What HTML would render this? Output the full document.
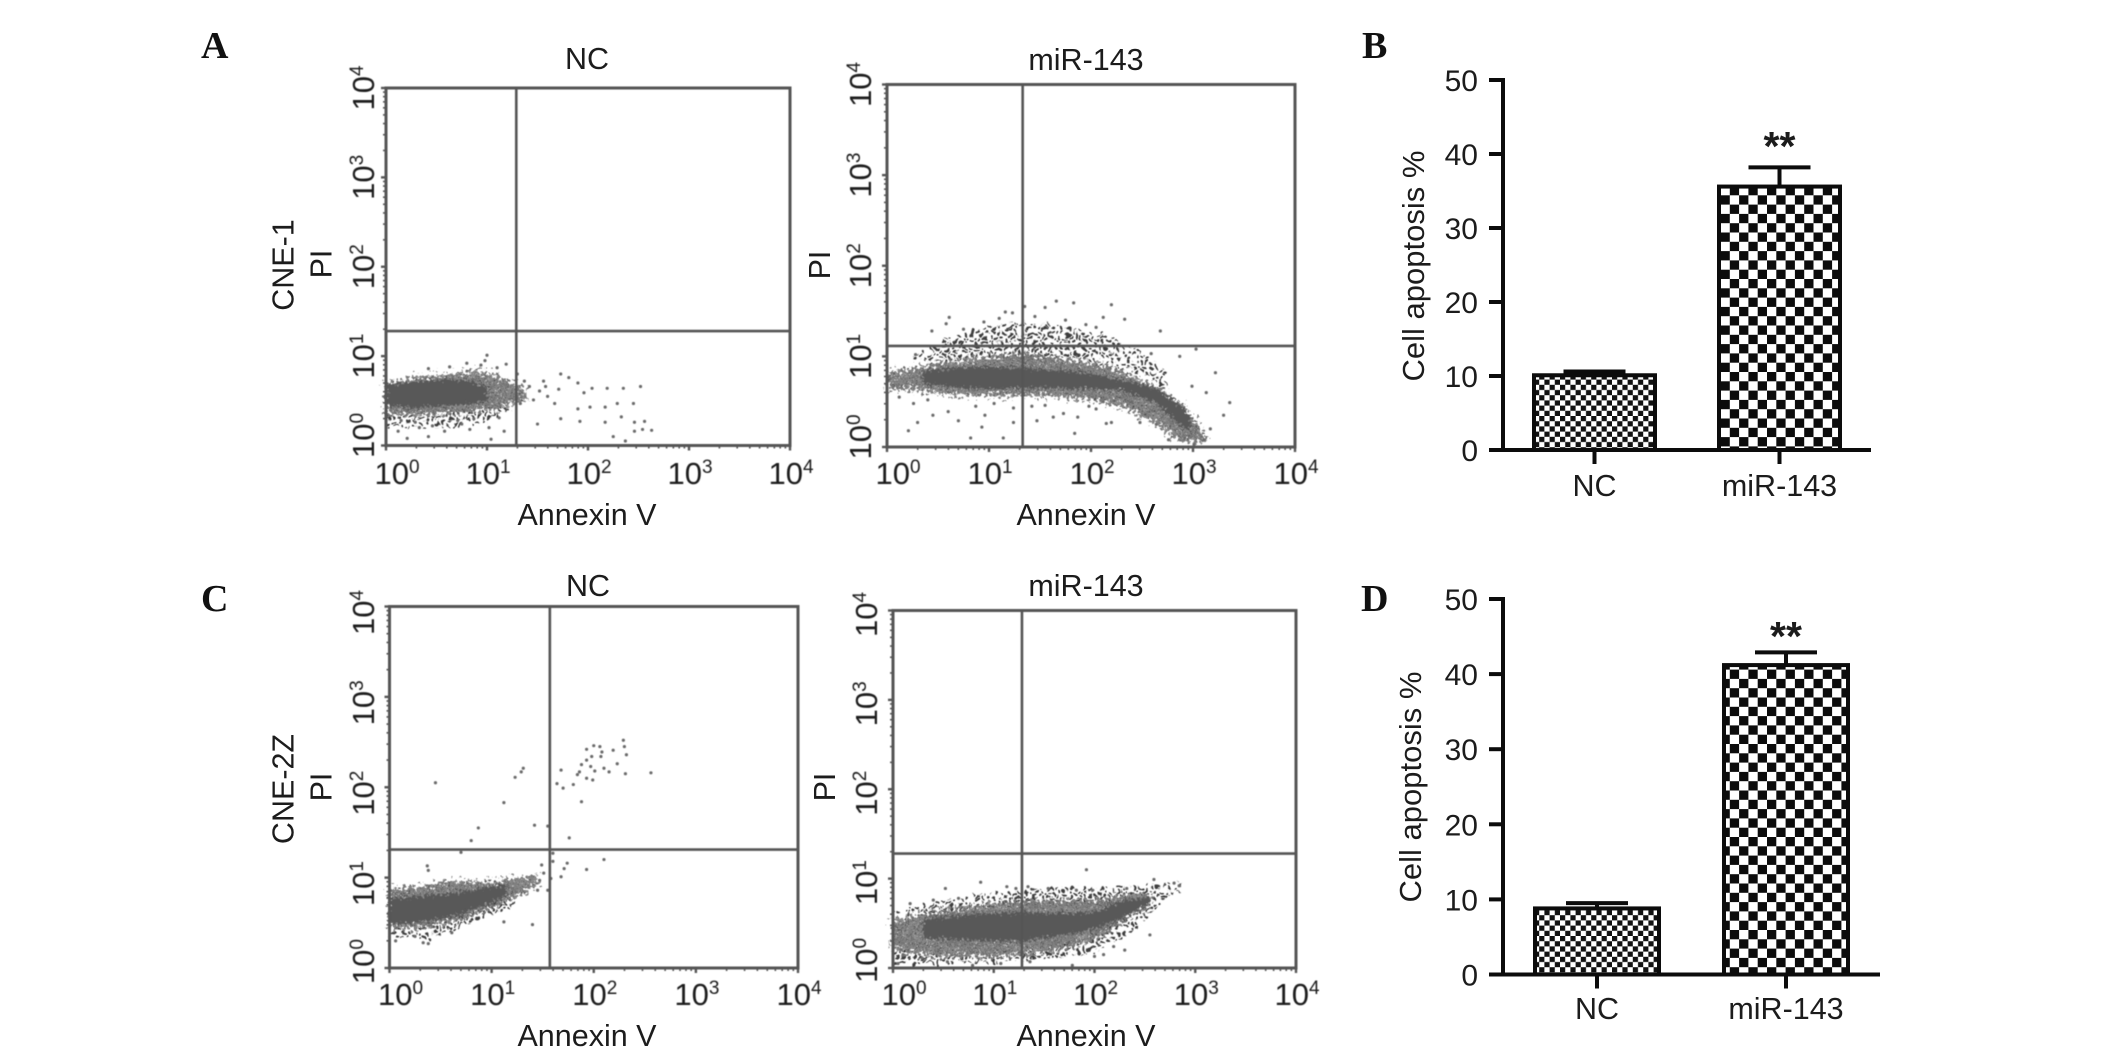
<!DOCTYPE html>
<html lang="en">
<head>
<meta charset="utf-8">
<title>Cell apoptosis flow cytometry</title>
<style>
html,body{margin:0;padding:0;background:#fff;}
svg{display:block;}
text{font-family:"Liberation Sans",sans-serif;fill:#1c1c1c;}
.letter{font-family:"Liberation Serif",serif;font-weight:bold;font-size:38px;fill:#111;}
.lab{font-size:30.5px;}
</style>
</head>
<body>
<svg id="fig" xmlns="http://www.w3.org/2000/svg" width="2126" height="1058" viewBox="0 0 2126 1058">
<defs>
<pattern id="stipple-sparse" width="17" height="15" patternUnits="userSpaceOnUse">
<g fill="#3e3e3e"><circle cx="2" cy="3" r="1.7"/><circle cx="8" cy="1" r="1.6"/><circle cx="13" cy="4" r="1.7"/><circle cx="16" cy="8" r="1.6"/><circle cx="6" cy="7" r="1.7"/><circle cx="11" cy="9" r="1.6"/><circle cx="3" cy="11" r="1.6"/><circle cx="14" cy="13" r="1.7"/><circle cx="8" cy="13" r="1.6"/></g>
</pattern>
<pattern id="stipple-dense" width="17" height="13" patternUnits="userSpaceOnUse">
<rect width="17" height="13" fill="#8a8a8a"/>
<g fill="#4e4e4e"><circle cx="2" cy="2" r="1.5"/><circle cx="7" cy="1" r="1.4"/><circle cx="12" cy="3" r="1.5"/><circle cx="16" cy="6" r="1.4"/><circle cx="5" cy="6" r="1.5"/><circle cx="10" cy="7" r="1.4"/><circle cx="1" cy="9" r="1.4"/><circle cx="14" cy="10" r="1.5"/><circle cx="7" cy="11" r="1.5"/></g>
<g fill="#e4e4e4"><circle cx="9" cy="4" r=".8"/><circle cx="3" cy="11" r=".8"/><circle cx="13" cy="12" r=".7"/></g>
</pattern>
<pattern id="check-fine" width="10.4" height="10.4" patternUnits="userSpaceOnUse">
<rect width="10.4" height="10.4" fill="#fff"/><rect width="5.2" height="5.2" fill="#111"/><rect x="5.2" y="5.2" width="5.2" height="5.2" fill="#111"/>
</pattern>
<pattern id="check-coarse" width="18.6" height="18.6" patternUnits="userSpaceOnUse">
<rect width="18.6" height="18.6" fill="#fff"/><rect width="9.3" height="9.3" fill="#0c0c0c"/><rect x="9.3" y="9.3" width="9.3" height="9.3" fill="#0c0c0c"/>
</pattern>
<filter id="grain-fine" x="-20%" y="-40%" width="140%" height="180%">
<feTurbulence type="fractalNoise" baseFrequency=".12" numOctaves="2" seed="5" result="n"/>
<feDisplacementMap in="SourceGraphic" in2="n" scale="12" xChannelSelector="R" yChannelSelector="G"/>
</filter>
<filter id="grain-wide" x="-20%" y="-40%" width="140%" height="180%">
<feTurbulence type="fractalNoise" baseFrequency=".33" numOctaves="2" seed="3" result="n"/>
<feDisplacementMap in="SourceGraphic" in2="n" scale="22" xChannelSelector="R" yChannelSelector="G"/>
</filter>
<filter id="grain-core" x="-20%" y="-40%" width="140%" height="180%">
<feTurbulence type="fractalNoise" baseFrequency=".4" numOctaves="2" seed="8" result="n"/>
<feDisplacementMap in="SourceGraphic" in2="n" scale="14" xChannelSelector="R" yChannelSelector="G"/>
</filter>
<filter id="soft" x="-2%" y="-2%" width="104%" height="104%"><feGaussianBlur stdDeviation="0.45"/></filter>
</defs>
<rect width="2126" height="1058" fill="#fff"/>

<text class="letter" x="201" y="58">A</text>
<text class="letter" x="1362" y="58">B</text>
<text class="letter" x="201" y="611">C</text>
<text class="letter" x="1361" y="611">D</text>

<text class="lab" x="587" y="69" text-anchor="middle">NC</text>
<text class="lab" x="1086" y="70" text-anchor="middle">miR-143</text>
<text class="lab" x="588" y="596" text-anchor="middle">NC</text>
<text class="lab" x="1086" y="596" text-anchor="middle">miR-143</text>

<text class="lab" x="587" y="525" text-anchor="middle">Annexin V</text>
<text class="lab" x="1086" y="525" text-anchor="middle">Annexin V</text>
<text class="lab" x="587" y="1046" text-anchor="middle">Annexin V</text>
<text class="lab" x="1086" y="1046" text-anchor="middle">Annexin V</text>

<text class="lab" transform="translate(293.5,265) rotate(-90)" text-anchor="middle">CNE-1</text>
<text class="lab" transform="translate(331.5,264) rotate(-90)" text-anchor="middle">PI</text>
<text class="lab" transform="translate(830,265) rotate(-90)" text-anchor="middle">PI</text>
<text class="lab" transform="translate(293.5,789) rotate(-90)" text-anchor="middle">CNE-2Z</text>
<text class="lab" transform="translate(331.5,787) rotate(-90)" text-anchor="middle">PI</text>
<text class="lab" transform="translate(835,787) rotate(-90)" text-anchor="middle">PI</text>

<text class="lab" style="font-size:31px" transform="translate(1424,266) rotate(-90)" text-anchor="middle">Cell apoptosis %</text>
<text class="lab" style="font-size:31px" transform="translate(1421,787) rotate(-90)" text-anchor="middle">Cell apoptosis %</text>

<g id="charts"></g>
</svg>

<script>
/* ---------- flow cytometry data (values in log10 decades) ---------- */
const logTickExponents = ['0', '1', '2', '3', '4'];

const gateANc = [1.29, 1.28];
const gateAMir = [1.33, 1.115];
const gateCNc = [1.57, 1.31];
const gateCMir = [1.28, 1.28];

/* density regions: [log Annexin V, low log PI, high log PI] */
const aNcMid = [[0,.35,.7],[.3,.33,.76],[.6,.35,.8],[.9,.38,.84],[1.1,.4,.78],[1.25,.47,.7],[1.38,.52,.64]];
const aNcCore = [[0,.45,.68],[.3,.42,.72],[.6,.44,.74],[.85,.46,.72],[1.0,.5,.66]];
const aNcSparse = [[0,.2,.35],[.5,.2,.35],[1,.25,.4],[1.2,.4,.47]];
const aNcPoints = [[1,1.01],[.98,.95],[.94,.9],[1.19,.91],[.63,.88],[.42,.86],[1.73,.8],[1.81,.76],[1.9,.7],[2.04,.64],[2.19,.64],[2.35,.64],[2.52,.66],[1.96,.59],[1.71,.63],[1.56,.72],[1.52,.61],[1.67,.47],[1.9,.41],[2.02,.43],[2.17,.43],[2.29,.47],[2.45,.47],[2.17,.26],[2.33,.32],[2.46,.26],[2.56,.27],[2.54,.18],[2.63,.17],[2.46,.16],[2.25,.1],[2.37,.05],[1.5,.24],[1.73,.3],[1.92,.27],[.12,.16],[.21,.08],[.42,.1],[.58,.16],[.83,.18],[1.04,.07],[1.17,.16],[.15,.28],[.29,.26],[.46,.22],[.71,.28],[.87,.3],[1.02,.2],[1.37,.72],[1.46,.51],[1.33,.47],[1.42,.66],[1.6,.55],[1.58,.66],[1.1,.87],[1.3,.8],[.8,.92],[.75,.24],[1.12,.31],[.33,.2]];

const aMirSparse = [[.25,.95,1.02],[.6,.92,1.2],[1,.98,1.34],[1.3,.98,1.38],[1.7,.98,1.34],[2.2,.88,1.22],[2.55,.78,1],[2.75,.6,.82]];
const aMirMid = [[0,.64,.82],[.3,.62,.88],[.6,.58,.94],[1,.56,1],[1.3,.56,1.03],[1.6,.56,1],[2,.52,.93],[2.3,.44,.84],[2.6,.28,.68],[2.85,.08,.5],[3.05,.04,.26],[3.12,.05,.12]];
const aMirCore = [[.35,.69,.84],[.7,.65,.88],[1,.64,.89],[1.5,.65,.86],[1.9,.64,.83],[2.27,.63,.75],[2.62,.5,.66],[2.9,.22,.45],[2.98,.16,.32]];
const aMirPoints = [[1.66,1.61],[1.83,1.59],[2.2,1.57],[1.55,1.54],[1.16,1.49],[1.23,1.48],[1.35,1.55],[.61,1.43],[.58,1.36],[2.12,1.43],[2.33,1.41],[2.68,1.28],[.44,1.28],[.28,1.02],[3.22,.82],[3.03,1.08],[3.36,.49],[3.3,.35],[3.13,.6],[3.17,.2],[2.99,.67],[2.87,1],[2.59,1.03],[.21,.18],[.3,.27],[.45,.35],[.26,.48],[.6,.39],[.7,.29],[.96,.35],[.93,.22],[.82,.1],[1.14,.1],[1.24,.27],[1.24,.43],[.87,.45],[1.47,.29],[1.63,.33],[1.73,.37],[1.84,.15],[1.87,.33],[1.42,.45],[1.98,.45],[2.15,.26],[2.2,.27],[2.48,.27],[2.12,.5],[2.4,.5],[2.64,.25],[2.76,.08],[3.01,.03],[3.11,.08],[2.92,.1],[.12,.55],[.4,.52],[1.05,.48],[1.55,.46],[2.05,.42],[.75,1.3],[.95,1.38],[1.1,1.42],[1.45,1.44],[1.75,1.4],[1.95,1.35],[2.05,1.32]];

const cNcMid = [[0,.44,.88],[.3,.44,.9],[.6,.51,.97],[1,.66,.95],[1.3,.81,1.01],[1.45,.92,1.03]];
const cNcCore = [[0,.48,.77],[.3,.5,.8],[.63,.57,.83],[1,.72,.9],[1.15,.8,.93]];
const cNcSparse = [[0,.32,.44],[.4,.32,.47],[.8,.5,.62],[1.2,.67,.82]];
const cNcPoints = [[.45,2.05],[1.31,2.21],[1.29,2.17],[1.23,2.11],[1.12,1.83],[.87,1.55],[.8,1.41],[.7,1.28],[1.42,1.58],[1.55,1.57],[1.76,1.44],[1.88,1.84],[1.68,2.19],[1.64,2.04],[1.7,1.99],[1.8,2.03],[1.84,2.14],[1.86,2.17],[1.93,2.42],[1.93,2.3],[1.88,2.25],[1.93,2.1],[1.99,2.08],[2,2.46],[2.06,2.45],[2.08,2.39],[1.98,2.34],[2.07,2.34],[2.01,2.18],[1.97,2.23],[2.1,2.21],[2.15,2.17],[2.19,2.41],[2.29,2.52],[2.3,2.45],[2.32,2.36],[2.23,2.26],[2.31,2.15],[2.56,2.16],[1.6,1.27],[1.6,1.18],[1.74,1.16],[1.71,1.1],[1.93,1.09],[2.1,1.2],[1.68,1.01],[1.49,1.14],[1.51,1.05],[1.47,.97],[1.58,.99],[1.45,.86],[1.55,.86],[1.4,.48],[1.12,.51],[.37,1.13],[.38,1.08],[.06,.3],[.33,.28],[.38,.27],[.25,.35],[.61,.39]];

const cMirSparse = [[0,.03,.62],[.5,.04,.76],[1,.05,.84],[1.5,.09,.9],[2,.18,.9],[2.4,.42,.9],[2.7,.76,.96],[2.87,.88,.96]];
const cMirMid = [[0,.2,.53],[.4,.13,.63],[1,.12,.72],[1.5,.17,.76],[2,.31,.76],[2.3,.54,.82],[2.55,.7,.84]];
const cMirCore = [[.3,.33,.55],[1,.3,.62],[1.3,.3,.63],[1.6,.35,.61],[2,.43,.63],[2.3,.57,.76],[2.55,.72,.8]];
const cMirPoints = [[1.92,1.1],[.87,.96],[.52,.89],[2.59,.99],[2.79,.95],[2.84,.92],[2.55,.37],[2.3,.2],[2.19,.24],[2.09,.15],[2,.13],[.17,.72],[.4,.76],[.65,.78],[1.13,.91],[1.22,.89],[1.34,.91],[1.54,.89],[1.82,.87],[1.98,.87],[2.32,.89],[.05,.05],[.1,.15],[.29,.11],[.54,.07],[.79,.03],[1.07,.05],[1.36,.07],[1.78,.03]];

/* ---------- bar chart data ---------- */
const barCategories = ['NC', 'miR-143'];
const barYTickLabels = ['0', '10', '20', '30', '40', '50'];
const panelBValues = [10.1, 35.6];
const panelBErrors = [0.5, 2.6];
const panelDValues = [8.8, 41.2];
const panelDErrors = [0.7, 1.7];

/* ---------- drawing ---------- */
const SVGNS = 'http://www.w3.org/2000/svg';
const root = document.getElementById('charts');

function make(tag, parent, attrs) {
  const el = document.createElementNS(SVGNS, tag);
  for (const k in attrs) el.setAttribute(k, attrs[k]);
  parent.appendChild(el);
  return el;
}

function decadeLabel(parent, exp, attrs) {
  const t = make('text', parent, attrs);
  const base = document.createElementNS(SVGNS, 'tspan');
  base.textContent = '10';
  t.appendChild(base);
  const sup = document.createElementNS(SVGNS, 'tspan');
  sup.setAttribute('dy', '-11');
  sup.setAttribute('font-size', '19');
  sup.textContent = exp;
  t.appendChild(sup);
  return t;
}

function bandPath(band, sx, sy) {
  const lows = band.map(r => sx(r[0]) + ' ' + sy(r[1]));
  const highs = band.slice().reverse().map(r => sx(r[0]) + ' ' + sy(r[2]));
  return 'M' + lows.concat(highs).join('L') + 'Z';
}

function drawFlow(f) {
  const g = make('g', root, { filter: 'url(#soft)' });
  
  
  const sx = v => f.left + (f.right - f.left) * v / 4;
  const sy = v => f.bottom - (f.bottom - f.top) * v / 4;
  const color = '#555';

  const regions = [[f.sparse, 'url(#stipple-sparse)', 'url(#grain-fine)'], [f.mid, 'url(#stipple-dense)', 'url(#grain-wide)'], [f.core, '#585858', 'url(#grain-core)']];
  regions.forEach(function (r) {
    const p = make('path', g, { d: bandPath(r[0], sx, sy), fill: r[1], filter: r[2] });
    
    
  });

  f.points.forEach(function (pt) {
    const c = make('circle', g, { cx: sx(pt[0]), cy: sy(pt[1]), r: 1.6, fill: '#6a6a6a' });
    
    
  });

  const frame = make('rect', g, { x: f.left, y: f.top, width: f.right - f.left, height: f.bottom - f.top, fill: 'none', stroke: color, 'stroke-width': 3 });
  
  

  const gateV = make('line', g, { x1: sx(f.gate[0]), x2: sx(f.gate[0]), y1: f.top, y2: f.bottom, stroke: color, 'stroke-width': 2.6 });
  
  
  const gateH = make('line', g, { x1: f.left, x2: f.right, y1: sy(f.gate[1]), y2: sy(f.gate[1]), stroke: color, 'stroke-width': 2.6 });
  
  

  logTickExponents.forEach(function (exp, i) {
    const tx = make('line', g, { x1: sx(i), x2: sx(i), y1: f.bottom, y2: f.bottom + 5, stroke: color, 'stroke-width': 2.4 });
    
    
    const ty = make('line', g, { x1: f.left - 5, x2: f.left, y1: sy(i), y2: sy(i), stroke: color, 'stroke-width': 2.4 });
    
    
    if (i < 4) {
      for (let k = 2; k < 10; k++) {
        const m = i + Math.log10(k);
        const mx = make('line', g, { x1: sx(m), x2: sx(m), y1: f.bottom, y2: f.bottom + 3, stroke: color, 'stroke-width': 1.6 });
        
        
        const my = make('line', g, { x1: f.left - 3, x2: f.left, y1: sy(m), y2: sy(m), stroke: color, 'stroke-width': 1.6 });
        
        
      }
    }
    const lx = decadeLabel(g, exp, { x: sx(i) + (i === 0 ? 11 : 1), y: f.xLabelY, 'text-anchor': 'middle', 'font-size': 31 });
    
    
    const shift = i === 0 ? -10 + f.yShift * 0.6 : f.yShift;
    const ly = decadeLabel(g, exp, { transform: 'translate(' + f.yLabelX + ',' + (sy(i) + shift) + ') rotate(-90)', 'text-anchor': 'middle', 'font-size': 31 });
    
    
  });
}

function drawBars(b) {
  const g = make('g', root, {});
  
  
  const sy = v => b.y0 - (b.y0 - b.y50) * v / 50;
  const sx = i => b.firstCenter + b.step * i;
  const fills = ['url(#check-fine)', 'url(#check-coarse)'];
  const ink = '#0c0c0c';

  barCategories.forEach(function (cat, i) {
    const top = sy(b.values[i]);
    const capY = sy(b.values[i] + b.errors[i]);
    const stem = make('line', g, { x1: sx(i), x2: sx(i), y1: top, y2: capY, stroke: ink, 'stroke-width': 4 });
    
    
    const cap = make('line', g, { x1: sx(i) - 31, x2: sx(i) + 31, y1: capY, y2: capY, stroke: ink, 'stroke-width': 4 });
    
    
    const bar = make('rect', g, { x: sx(i) - b.barWidth / 2, y: top, width: b.barWidth, height: b.y0 - top, fill: fills[i], stroke: ink, 'stroke-width': 4 });
    
    
    const tick = make('line', g, { x1: sx(i), x2: sx(i), y1: b.y0, y2: b.y0 + 14, stroke: ink, 'stroke-width': 4 });
    
    
    const label = make('text', g, { x: sx(i), y: b.catY, 'text-anchor': 'middle', 'font-size': 30.5 });
    label.textContent = cat;
    
    
  });

  const yAxis = make('line', g, { x1: b.axisX, x2: b.axisX, y1: b.y50 - 2, y2: b.y0 + 2, stroke: ink, 'stroke-width': 4 });
  
  
  const xAxis = make('line', g, { x1: b.axisX - 14, x2: b.xEnd, y1: b.y0, y2: b.y0, stroke: ink, 'stroke-width': 4 });
  
  

  barYTickLabels.forEach(function (lab) {
    const v = parseFloat(lab);
    const t = make('line', g, { x1: b.axisX - 14, x2: b.axisX, y1: sy(v), y2: sy(v), stroke: ink, 'stroke-width': 4 });
    
    
    const l = make('text', g, { x: 1478, y: sy(v) + 11, 'text-anchor': 'end', 'font-size': 30 });
    l.textContent = lab;
    
    
  });

  const star = make('text', g, { x: sx(1), y: b.starY, 'text-anchor': 'middle', 'font-size': 41, 'font-weight': 'bold' });
  star.textContent = '**';
  
  
}

drawFlow({ left: 386, right: 790, top: 88, bottom: 445.5, xLabelY: 484, yLabelX: 374, yShift: 0, gate: gateANc, sparse: aNcSparse, mid: aNcMid, core: aNcCore, points: aNcPoints });
drawFlow({ left: 887, right: 1295, top: 84.5, bottom: 447, xLabelY: 484, yLabelX: 871, yShift: 0, gate: gateAMir, sparse: aMirSparse, mid: aMirMid, core: aMirCore, points: aMirPoints });
drawFlow({ left: 389.5, right: 798, top: 606.5, bottom: 968, xLabelY: 1005, yLabelX: 374, yShift: 6, gate: gateCNc, sparse: cNcSparse, mid: cNcMid, core: cNcCore, points: cNcPoints });
drawFlow({ left: 893, right: 1296, top: 610.5, bottom: 968, xLabelY: 1005, yLabelX: 877, yShift: 4, gate: gateCMir, sparse: cMirSparse, mid: cMirMid, core: cMirCore, points: cMirPoints });

drawBars({ axisX: 1503, y0: 450, y50: 80, xEnd: 1871, firstCenter: 1594.5, step: 185, barWidth: 121, values: panelBValues, errors: panelBErrors, catY: 496, starY: 160 });
drawBars({ axisX: 1503, y0: 974.5, y50: 599, xEnd: 1880, firstCenter: 1597, step: 189, barWidth: 124, values: panelDValues, errors: panelDErrors, catY: 1019, starY: 650 });
</script>
</body>
</html>
